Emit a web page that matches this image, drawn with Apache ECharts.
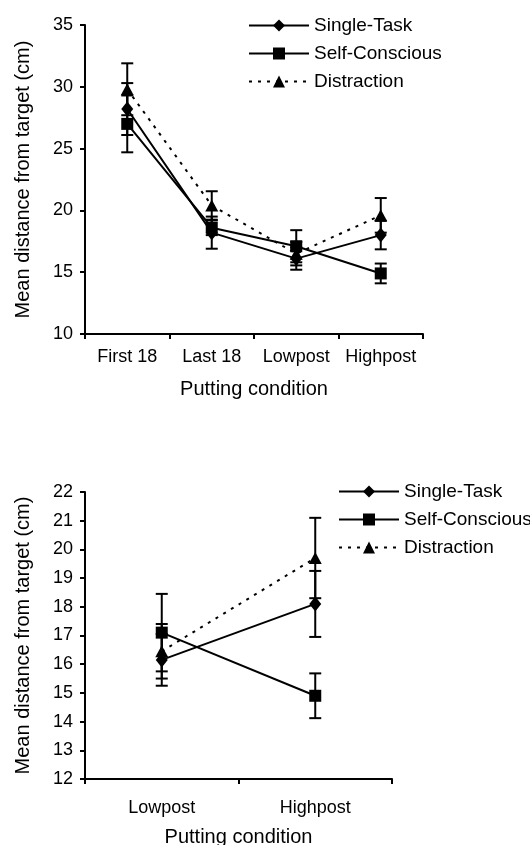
<!DOCTYPE html>
<html>
<head>
<meta charset="utf-8">
<script src="https://cdn.jsdelivr.net/npm/echarts@6/dist/echarts.min.js"></script>
<style>
  html, body { margin: 0; padding: 0; background: #fff; }
  #chart { width: 530px; height: 845px; }
</style>
</head>
<body>
<div id="chart"></div>
<script>
// top panel: all four putting conditions
const topCategories = ['First 18', 'Last 18', 'Lowpost', 'Highpost'];
const topSingleTask = [28.2, 18.2, 16.1, 18.0];
const topSelfConscious = [27.0, 18.6, 17.1, 14.9];
const topDistraction = [29.8, 20.4, 16.5, 19.6];
const topSingleTaskErr = [2.1, 1.3, 0.9, 1.15];
const topSelfConsciousErr = [2.3, 0.6, 1.3, 0.8];
const topDistractionErr = [2.1, 1.15, 0.95, 1.4];

// bottom panel: post-manipulation only
const bottomCategories = ['Lowpost', 'Highpost'];
const bottomSingleTask = [16.15, 18.1];
const bottomSelfConscious = [17.1, 14.9];
const bottomDistraction = [16.45, 19.7];
const bottomSingleTaskErr = [0.9, 1.15];
const bottomSelfConsciousErr = [1.35, 0.78];
const bottomDistractionErr = [0.95, 1.4];

const seriesNames = ['Single-Task', 'Self-Conscious', 'Distraction'];
const topTicks = [10, 35, 5];    // min, max, step
const bottomTicks = [12, 22, 1];

const font = 'Liberation Sans, Arial, sans-serif';

// error bar drawing (vertical line + caps)
function errRender(params, api) {
  const x = api.value(0);
  const hi = api.coord([x, api.value(2)]);
  const lo = api.coord([x, api.value(1)]);
  const w = 6;
  const st = { stroke: '#000', lineWidth: 2 };
  return {
    type: 'group',
    children: [
      { type: 'line', shape: { x1: hi[0], y1: hi[1], x2: lo[0], y2: lo[1] }, style: st },
      { type: 'line', shape: { x1: hi[0] - w, y1: hi[1], x2: hi[0] + w, y2: hi[1] }, style: st },
      { type: 'line', shape: { x1: lo[0] - w, y1: lo[1], x2: lo[0] + w, y2: lo[1] }, style: st }
    ]
  };
}

function errData(vals, errs) {
  return vals.map((v, i) => [i, v - errs[i], v + errs[i]]);
}

function lineSeries(name, data, idx, symbol, size, dashed) {
  return {
    name: name,
    type: 'line',
    xAxisIndex: idx,
    yAxisIndex: idx,
    data: data,
    symbol: symbol,
    symbolSize: size,
    z: 3,
    itemStyle: { color: '#000' },
    lineStyle: { color: '#000', width: 2, type: dashed ? [3, 6] : 'solid' },
    animation: false
  };
}

function errSeries(vals, errs, idx) {
  return {
    type: 'custom',
    xAxisIndex: idx,
    yAxisIndex: idx,
    renderItem: errRender,
    data: errData(vals, errs),
    z: 2,
    silent: true,
    animation: false
  };
}

function yAxis(idx, ticks) {
  return {
    type: 'value',
    gridIndex: idx,
    min: ticks[0],
    max: ticks[1],
    interval: ticks[2],
    name: 'Mean distance from target (cm)',
    nameLocation: 'middle',
    nameGap: 52,
    nameMoveOverlap: false,
    nameTextStyle: { color: '#000', fontSize: 20, fontFamily: font },
    axisLine: { show: true, lineStyle: { color: '#000', width: 2 } },
    axisTick: { show: true, inside: false, length: 5, lineStyle: { color: '#000', width: 2 } },
    axisLabel: { color: '#000', fontSize: 18, fontFamily: font, margin: 12 },
    splitLine: { show: false }
  };
}

function xAxis(idx, cats, labelMargin, nameGap) {
  return {
    type: 'category',
    gridIndex: idx,
    data: cats,
    boundaryGap: true,
    name: 'Putting condition',
    nameLocation: 'middle',
    nameGap: nameGap,
    nameMoveOverlap: false,
    nameTextStyle: { color: '#000', fontSize: 20, fontFamily: font },
    axisLine: { onZero: false, lineStyle: { color: '#000', width: 2 } },
    axisTick: { show: true, inside: false, length: 5, alignWithLabel: false, lineStyle: { color: '#000', width: 2 } },
    axisLabel: { color: '#000', fontSize: 18, fontFamily: font, margin: labelMargin, interval: 0 },
    splitLine: { show: false }
  };
}

function legend(left, top) {
  return {
    data: seriesNames,
    orient: 'vertical',
    left: left,
    top: top,
    padding: 0,
    itemWidth: 60,
    itemHeight: 15,
    itemGap: 9,
    selectedMode: false,
    textStyle: { color: '#000', fontSize: 19, fontFamily: font, lineHeight: 19 }
  };
}

const chart = echarts.init(document.getElementById('chart'));
chart.setOption({
  backgroundColor: '#fff',
  animation: false,
  legend: [legend(248, 16), legend(338, 482)],
  grid: [
    { left: 85, top: 25, width: 338, height: 309, outerBoundsMode: 'none' },
    { left: 85, top: 492, width: 307, height: 287, outerBoundsMode: 'none' }
  ],
  xAxis: [xAxis(0, topCategories, 14, 45), xAxis(1, bottomCategories, 20, 48)],
  yAxis: [yAxis(0, topTicks), yAxis(1, bottomTicks)],
  series: [
    errSeries(topSingleTask, topSingleTaskErr, 0),
    errSeries(topSelfConscious, topSelfConsciousErr, 0),
    errSeries(topDistraction, topDistractionErr, 0),
    lineSeries(seriesNames[0], topSingleTask, 0, 'diamond', [12, 15], false),
    lineSeries(seriesNames[1], topSelfConscious, 0, 'rect', 12, false),
    lineSeries(seriesNames[2], topDistraction, 0, 'triangle', [13, 12], true),
    errSeries(bottomSingleTask, bottomSingleTaskErr, 1),
    errSeries(bottomSelfConscious, bottomSelfConsciousErr, 1),
    errSeries(bottomDistraction, bottomDistractionErr, 1),
    lineSeries(seriesNames[0], bottomSingleTask, 1, 'diamond', [12, 15], false),
    lineSeries(seriesNames[1], bottomSelfConscious, 1, 'rect', 12, false),
    lineSeries(seriesNames[2], bottomDistraction, 1, 'triangle', [13, 12], true)
  ]
});
</script>
</body>
</html>
